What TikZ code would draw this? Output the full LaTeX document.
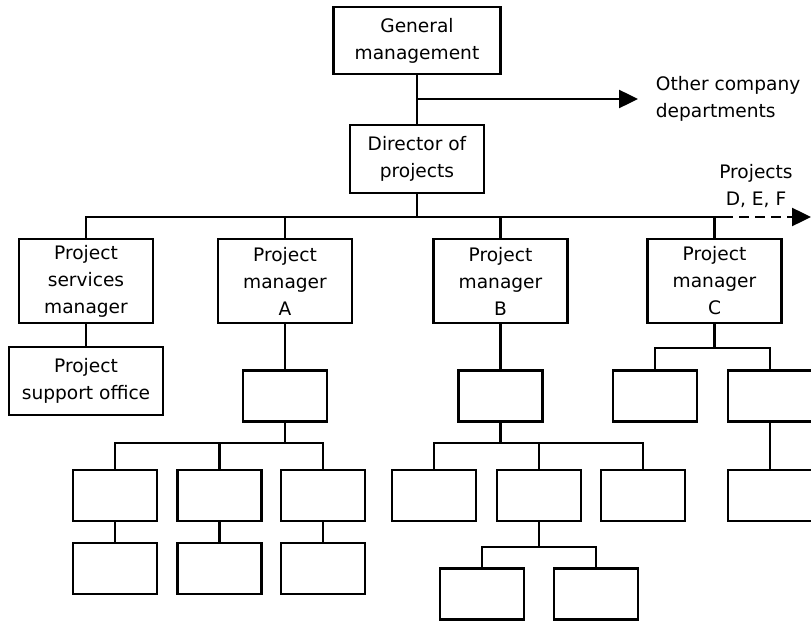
\documentclass[tikz,border=0pt]{standalone}
\usepackage{fontspec}
\setmainfont{DejaVu Sans}
\usetikzlibrary{arrows.meta}
\begin{document}
\begin{tikzpicture}[x=0.5pt, y=-0.5pt, >={Triangle[length=9.5pt, width=9pt]}, line width=1.25pt, font=\fontsize{9.3}{13.5}\selectfont,
		role/.style={draw, align=center, inner sep=0pt, minimum width=67pt, minimum height=42pt},
		unit/.style={draw, minimum width=42pt, minimum height=25.5pt}]
		\clip (0,0) rectangle (811,621);
		% Đầu
		\node[role, minimum width=83.5pt, minimum height=33.5pt] (gm) at (417,40.5) {General\\management};
		\node[role, minimum height=34pt] (dir) at (417,159) {Director of\\projects};
		\node[anchor=west, align=left] (other) at (648,99) {Other company\\departments};
		\coordinate (side) at (417,99);
		\draw (gm) -- (dir);
		\draw[->] (side) -- ([xshift=-5pt]other.west);
		% Thanh ngang
		\coordinate (bus) at (417,217);
		\coordinate (busend) at (723,217);
		\coordinate (tail) at (811,217);
		\node[align=center] (more) at (756,186) {Projects\\D, E, F};
		\node[role] (svc) at (86,281) {Project\\services\\manager};
		\node[role] (pmA) at (285,281) {Project\\manager\\A};
		\node[role] (pmB) at (500.5,281) {Project\\manager\\B};
		\node[role] (pmC) at (714.5,281) {Project\\manager\\C};
		\draw (dir) -- (bus);
		\draw (svc.north) |- (busend);
		\draw[dash pattern=on 5pt off 3pt, ->] (busend) -- (tail);
		\draw (pmA.north) -- (pmA.north |- bus);
		\draw (pmB.north) -- (pmB.north |- bus);
		\draw (pmC.north) -- (pmC.north |- bus);
		% Dịch vụ
		\node[role, minimum width=77pt, minimum height=34pt] (pso) at (86,381) {Project\\support office};
		\draw (svc) -- (pso);
		% Dự án A
		\node[unit] (a) at (285,396) {};
		\coordinate (busA) at (285,443);
		\node[unit] (a1) at (115,495.5) {};
		\node[unit] (a2) at (219.5,495.5) {};
		\node[unit] (a3) at (323,495.5) {};
		\node[unit] (a4) at (115,568.5) {};
		\node[unit] (a5) at (219.5,568.5) {};
		\node[unit] (a6) at (323,568.5) {};
		\draw (pmA) -- (a);
		\draw (a) -- (busA);
		\draw (a1.north) |- (busA) -| (a3.north);
		\draw (a2.north) -- (a2.north |- busA);
		\draw (a1) -- (a4);
		\draw (a2) -- (a5);
		\draw (a3) -- (a6);
		% Dự án B
		\node[unit] (b) at (500.5,396) {};
		\coordinate (busB) at (500.5,443);
		\node[unit] (b1) at (434,495.5) {};
		\node[unit] (b2) at (539,495.5) {};
		\node[unit] (b3) at (643,495.5) {};
		\coordinate (busB2) at (539,547);
		\node[unit] (b4) at (482,594) {};
		\node[unit] (b5) at (596,594) {};
		\draw (pmB) -- (b);
		\draw (b) -- (busB);
		\draw (b1.north) |- (busB) -| (b3.north);
		\draw (b2.north) -- (b2.north |- busB);
		\draw (b2) -- (busB2);
		\draw (b4.north) |- (busB2) -| (b5.north);
		% Dự án C
		\coordinate (busC) at (714.5,348);
		\node[unit] (c1) at (655,396) {};
		\node[unit] (c2) at (770,396) {};
		\node[unit] (c3) at (770,495.5) {};
		\draw (pmC) -- (busC);
		\draw (c1.north) |- (busC) -| (c2.north);
		\draw (c2) -- (c3);
	\end{tikzpicture}
\end{document}
